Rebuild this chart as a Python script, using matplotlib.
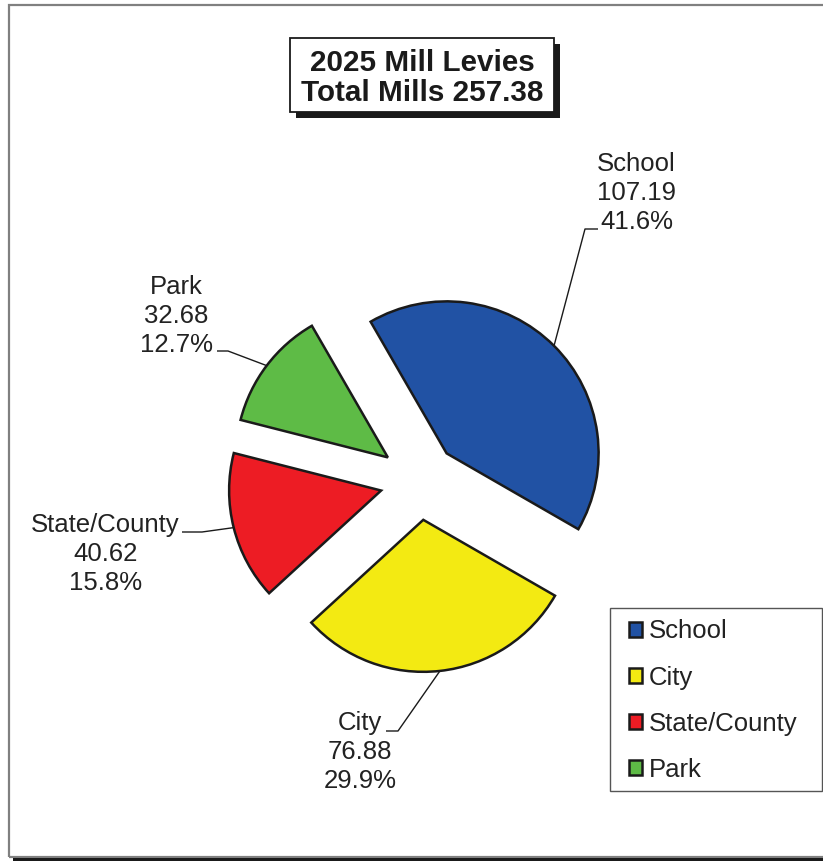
import matplotlib
matplotlib.use("Agg")
import matplotlib.pyplot as plt
from matplotlib.patches import Rectangle
import numpy as np

plt.rcParams['font.family'] = ['Liberation Sans', 'DejaVu Sans']

# Mill levy data
categories = ["School", "City", "State/County", "Park"]
mills = [107.19, 76.88, 40.62, 32.68]
colors = ["#2152A4", "#F3EA12", "#ED1C24", "#5EBB46"]
title_lines = ["2025 Mill Levies", "Total Mills 257.38"]

W, H = 823, 861
DPI = 100
R_PX = 152.0          # pie radius in pixels
CX, CY = 419.0, 481.0  # pie centre in pixels (from top-left)
INK = "#1a1a1a"
LABEL_FS = 18.5


def px(x, y):
    """Pixel position (top-left origin) -> data coordinates (pie radius = 1)."""
    return ((x - CX) / R_PX, (CY - y) / R_PX)


def fig_box(x0, y0, x1, y1, **kw):
    """Rectangle in figure pixels (top-left origin)."""
    return Rectangle((x0 / W, 1 - y1 / H), (x1 - x0) / W, (y1 - y0) / H,
                     transform=fig.transFigure, **kw)


fig = plt.figure(figsize=(W / DPI, H / DPI), dpi=DPI)
fig.patch.set_facecolor("white")

# page frame
fig.patches.append(fig_box(8.5, 4.5, W + 10, 856.5, fill=False,
                           edgecolor="#808080", linewidth=1.6, zorder=0))
fig.patches.append(fig_box(13, H - 3.2, W + 10, H + 2, facecolor=INK,
                           edgecolor="none", zorder=0))

ax = fig.add_axes([0, 0, 1, 1])
explode = [0.257] * len(mills)
wedges, _ = ax.pie(mills, colors=colors, startangle=120, counterclock=False,
                   explode=explode, radius=1.0,
                   wedgeprops=dict(edgecolor=INK, linewidth=1.8))
ax.set_xlim(-CX / R_PX, (W - CX) / R_PX)
ax.set_ylim(-(H - CY) / R_PX, CY / R_PX)
ax.set_aspect("auto")
ax.axis("off")

total = sum(mills)

# label block centres and leader elbows (pixel positions)
label_pos = {
    "School": (636.5, 193),
    "City": (360, 752),
    "State/County": (105.5, 554),
    "Park": (176.5, 316),
}
leader_pts = {
    "School": [(585, 229), (598, 229)],
    "City": [(398, 731), (386, 731)],
    "State/County": [(202, 532), (182, 532)],
    "Park": [(228, 351), (217, 351)],
}

for w, name, val in zip(wedges, categories, mills):
    mid = np.deg2rad(0.5 * (w.theta1 + w.theta2))
    cx, cy = w.center
    ex, ey = cx + w.r * np.cos(mid), cy + w.r * np.sin(mid)
    pts = [(ex, ey)] + [px(*p) for p in leader_pts[name]]
    xs, ys = zip(*pts)
    ax.plot(xs, ys, color=INK, linewidth=1.0, solid_capstyle="butt")
    tx, ty = px(*label_pos[name])
    ax.text(tx, ty, f"{name}\n{val:.2f}\n{val / total * 100:.1f}%",
            ha="center", va="center", fontsize=LABEL_FS, color="#222222",
            linespacing=1.26)

# title box with drop shadow
fig.patches.append(fig_box(296, 44, 560, 118, facecolor=INK, edgecolor="none", zorder=2))
fig.patches.append(fig_box(290, 38, 554, 112, facecolor="white", edgecolor=INK,
                           linewidth=1.3, zorder=3))
fig.text(422 / W, 1 - 78 / H, "\n".join(title_lines), ha="center", va="center",
         fontsize=21.3, fontweight="bold", color=INK, linespacing=1.1, zorder=4)

# legend: entries placed by the library, frame drawn as a box around them
fig.patches.append(fig_box(609.5, 607.5, 822, 791, fill=False, edgecolor="#555555",
                           linewidth=1.0, zorder=2))
leg = fig.legend(wedges, categories, loc="upper left",
                 bbox_to_anchor=(629 / W, 1 - 619.5 / H),
                 bbox_transform=fig.transFigure, borderaxespad=0, borderpad=0,
                 fontsize=LABEL_FS, frameon=False,
                 handlelength=0.5, handleheight=0.5,
                 handletextpad=0.27, labelspacing=0.86)
for txt in leg.get_texts():
    txt.set_color("#222222")

fig.savefig("out.png", dpi=DPI)
